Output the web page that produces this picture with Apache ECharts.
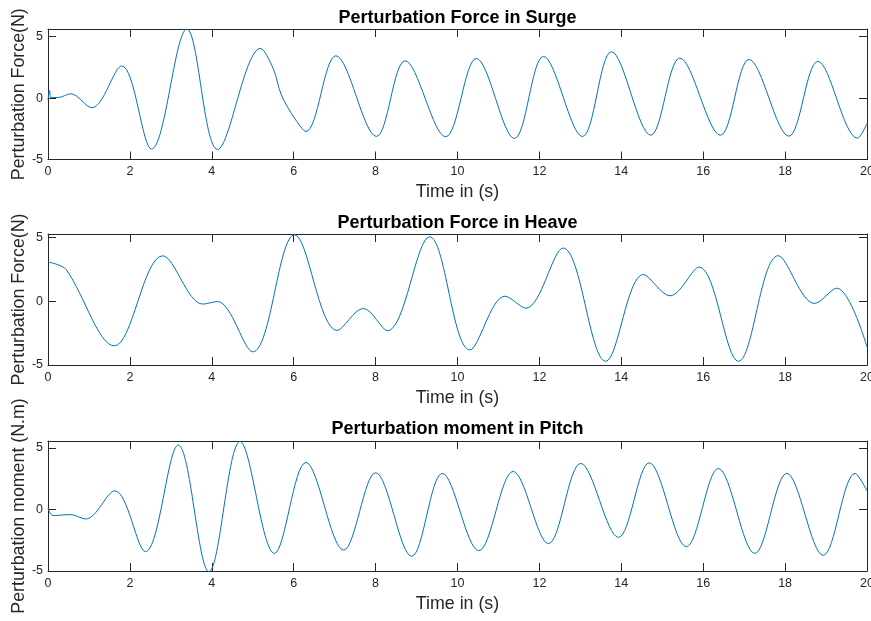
<!DOCTYPE html>
<html>
<head>
<meta charset="utf-8">
<script src="https://cdn.jsdelivr.net/npm/echarts@6/dist/echarts.min.js"></script>
<style>
html,body{margin:0;padding:0;background:#fff;}
#chart{width:871px;height:621px;}
</style>
</head>
<body>
<div id="chart"></div>
<script>
// ---- data ----
var titles = ['Perturbation Force in Surge', 'Perturbation Force in Heave', 'Perturbation moment in Pitch'];
var yNames = ['Perturbation Force(N)', 'Perturbation Force(N)', 'Perturbation moment (N.m)'];
var xName = 'Time in (s)';
var xTicks = [0, 2, 4, 6, 8, 10, 12, 14, 16, 18, 20];
var yTicks = [-5, 0, 5];

var surgeTime = [0, 0.04, 0.07, 0.25, 0.55, 1.07, 1.8, 2.53, 3.39, 4.14, 5.19, 5.5, 5.7, 6.03, 6.3, 7.03, 8.02, 8.72, 9.71, 10.46, 11.39, 12.10, 13.05, 13.76, 14.72, 15.43, 16.42, 17.12, 18.09, 18.80, 19.77, 20];
var surgeForce = [-0.15, 0.62, 0.05, 0.05, 0.35, -0.78, 2.62, -4.15, 5.62, -4.18, 4.05, 2.4, 0.25, -1.68, -2.72, 3.45, -3.12, 3.04, -3.15, 3.23, -3.29, 3.40, -3.13, 3.78, -3.02, 3.26, -3.02, 3.15, -3.1, 2.99, -3.26, -2.07];

var heaveTime = [0, 0.2, 0.45, 1.62, 2.8, 3.78, 4.14, 5.0, 6.02, 7.06, 7.7, 8.29, 9.32, 10.30, 11.16, 11.67, 12.58, 13.62, 14.54, 15.19, 15.90, 16.86, 17.83, 18.72, 19.26, 20];
var heaveForce = [3.05, 2.9, 2.45, -3.5, 3.55, -0.23, -0.03, -3.97, 5.2, -2.3, -0.57, -2.32, 5.04, -3.82, 0.39, -0.55, 4.16, -4.71, 2.09, 0.42, 2.67, -4.71, 3.56, -0.18, 1.02, -3.59];

var pitchTime = [0, 0.12, 0.55, 0.92, 1.63, 2.38, 3.18, 3.93, 4.69, 5.53, 6.3, 7.22, 8.0, 8.88, 9.63, 10.52, 11.36, 12.22, 13.01, 13.93, 14.68, 15.59, 16.37, 17.26, 18.04, 18.93, 19.71, 20];
var pitchMoment = [0.1, -0.5, -0.42, -0.78, 1.51, -3.43, 5.22, -5.05, 5.51, -3.57, 3.81, -3.3, 2.97, -3.81, 2.92, -3.35, 3.08, -2.78, 3.73, -2.27, 3.78, -3.03, 3.32, -3.57, 2.92, -3.73, 2.92, 1.51];

var yMax = [5.63, 5.26, 5.55];
var yMin = [-5, -5, -5];

// ---- build chart ----
function pairs(t, v) { var out = []; for (var i = 0; i < t.length; i++) out.push([t[i], v[i]]); return out; }
var seriesData = [pairs(surgeTime, surgeForce), pairs(heaveTime, heaveForce), pairs(pitchTime, pitchMoment)];

var FONT = '"Liberation Sans", Arial, Helvetica, sans-serif';
var AX = '#262626';
var gridTops = [29, 234, 441];
var gridHeights = [130.5, 131, 130];
var titleTops = [9, 214, 420];

var grid = [], xAxis = [], yAxis = [], series = [], title = [];
for (var i = 0; i < 3; i++) {
  grid.push({ left: 48, right: 4, top: gridTops[i], height: gridHeights[i], containLabel: false, outerBoundsMode: 'none' });
  title.push({ text: titles[i], left: 457.5, top: titleTops[i], textAlign: 'center', padding: 0,
    textStyle: { fontFamily: FONT, fontSize: 18, fontWeight: 'bold', color: '#000' } });
  var axCommon = {
    gridIndex: i, type: 'value', min: 0, max: 20, interval: 2,
    axisLine: { show: true, onZero: false, lineStyle: { color: AX, width: 1 } },
    axisTick: { show: true, inside: true, length: 8, customValues: xTicks, lineStyle: { color: AX } },
    splitLine: { show: false }
  };
  xAxis.push(Object.assign({}, axCommon, {
    position: 'bottom',
    axisLabel: { show: true, margin: 6, color: AX, fontSize: 12.5, fontFamily: FONT, customValues: xTicks },
    name: xName, nameLocation: 'middle', nameGap: 24, nameMoveOverlap: false,
    nameTextStyle: { color: AX, fontSize: 17.8, fontFamily: FONT }
  }));
  xAxis.push(Object.assign({}, axCommon, { position: 'top', axisLabel: { show: false } }));
  var yCommon = {
    gridIndex: i, type: 'value', min: yMin[i], max: yMax[i],
    axisLine: { show: true, onZero: false, lineStyle: { color: AX, width: 1 } },
    axisTick: { show: true, inside: true, length: 8, customValues: yTicks, lineStyle: { color: AX } },
    splitLine: { show: false }
  };
  yAxis.push(Object.assign({}, yCommon, {
    position: 'left',
    axisLabel: { show: true, margin: 5, color: AX, fontSize: 12.5, fontFamily: FONT, customValues: yTicks },
    name: yNames[i], nameLocation: 'middle', nameGap: 20, nameMoveOverlap: false,
    nameTextStyle: { color: AX, fontSize: 17.8, fontFamily: FONT }
  }));
  yAxis.push(Object.assign({}, yCommon, { position: 'right', axisLabel: { show: false } }));
  series.push({
    type: 'line', xAxisIndex: i * 2, yAxisIndex: i * 2, data: seriesData[i],
    smooth: 0.35, showSymbol: false, symbol: 'none', clip: true,
    lineStyle: { color: '#0072BD', width: 1 }, itemStyle: { color: '#0072BD' }
  });
}

var chart = echarts.init(document.getElementById('chart'), null, { renderer: 'canvas' });
chart.setOption({
  animation: false,
  backgroundColor: '#fff',
  title: title, grid: grid, xAxis: xAxis, yAxis: yAxis, series: series
});
</script>
</body>
</html>
